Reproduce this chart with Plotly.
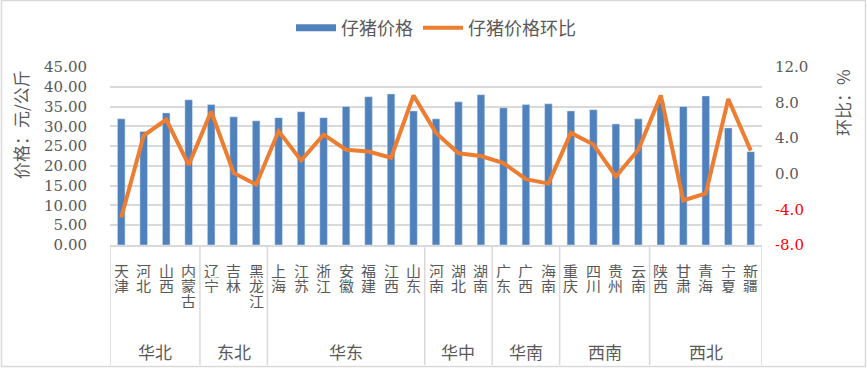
import plotly.graph_objects as go

provinces = ["天津","河北","山西","内蒙古","辽宁","吉林","黑龙江","上海","江苏","浙江","安徽","福建","江西","山东",
             "河南","湖北","湖南","广东","广西","海南","重庆","四川","贵州","云南","陕西","甘肃","青海","宁夏","新疆"]
regions = ["华北"]*4 + ["东北"]*3 + ["华东"]*7 + ["华中"]*3 + ["华南"]*3 + ["西南"]*4 + ["西北"]*5
price = [31.9, 28.7, 33.4, 36.7, 35.5, 32.4, 31.4, 32.2, 33.7, 32.2, 35.0, 37.5, 38.2, 33.9,
         31.9, 36.2, 38.0, 34.7, 35.5, 35.7, 33.9, 34.2, 30.6, 31.9, 36.0, 35.0, 37.7, 29.6, 23.6]
mom = [-4.9, 4.3, 6.1, 1.0, 7.0, 0.1, -1.2, 4.8, 1.5, 4.4, 2.7, 2.5, 1.8, 8.8,
       4.6, 2.3, 2.0, 1.2, -0.6, -1.1, 4.6, 3.3, -0.3, 2.7, 8.8, -3.0, -2.2, 8.4, 2.6]
left_ticks = [0, 5, 10, 15, 20, 25, 30, 35, 40, 45]
right_ticks = [-8, -4, 0, 4, 8, 12]

BLUE = "#4F81BD"
ORANGE = "#ED7D31"
GRAY = "#595959"
GRID = "#D9D9D9"
CJK = "Noto Sans CJK SC"
NUM = "DejaVu Serif, Noto Sans CJK SC"

x = list(range(len(provinces)))

fig = go.Figure()
fig.add_trace(go.Bar(x=x, y=price, marker_color=BLUE, name="仔猪价格", showlegend=False, yaxis="y"))
fig.add_trace(go.Scatter(x=[None], y=[None], mode="lines", line=dict(color=BLUE, width=7),
                         name="仔猪价格", yaxis="y"))
fig.add_trace(go.Scatter(x=x, y=mom, mode="lines", line=dict(color=ORANGE, width=4),
                         name="仔猪价格环比", yaxis="y2"))

def rt(v):
    s = f"{v:.1f}"
    return f"<span style='color:#FF0000'>{s}</span>" if v < 0 else s

fig.update_layout(
    width=867, height=368,
    margin=dict(l=110, r=105, t=67, b=123, autoexpand=False),
    paper_bgcolor="white", plot_bgcolor="white",
    bargap=0.66,
    showlegend=True,
    legend=dict(orientation="h", x=0.5, xanchor="center", y=(245-28)/178, yanchor="middle",
                font=dict(family=CJK, size=18, color=GRAY), itemwidth=40, tracegroupgap=0),
    xaxis=dict(range=[-0.5, len(provinces)-0.5], showticklabels=False, showgrid=False,
               showline=True, linecolor=GRID, linewidth=1.5, zeroline=False, fixedrange=True),
    yaxis=dict(range=[0, 45], tickvals=left_ticks, ticktext=[f"{v:.2f}" for v in left_ticks],
               showgrid=True, gridcolor=GRID, gridwidth=1.5, zeroline=False,
               tickfont=dict(family=NUM, size=15, color=GRAY), ticklabelstandoff=22),
    yaxis2=dict(range=[-8, 12], overlaying="y", side="right", tickvals=right_ticks,
                ticktext=[rt(v) for v in right_ticks], showgrid=False, zeroline=False,
                tickfont=dict(family=NUM, size=15, color=GRAY), ticklabelstandoff=12),
)

ann = []
# province labels, one character per row
for i, p in enumerate(provinces):
    for k, ch in enumerate(p):
        ann.append(dict(x=i, y=0, xref="x", yref="paper", text=ch, showarrow=False,
                        yanchor="middle", yshift=-(25 + 15*k), height=15, textangle=0,
                        font=dict(family=CJK, size=15, color=GRAY)))
# region labels and dividers
shapes = []
start = 0
bounds = []
for i in range(1, len(regions)+1):
    if i == len(regions) or regions[i] != regions[start]:
        ann.append(dict(x=(start + i - 1)/2, y=0, xref="x", yref="paper", text=regions[start],
                        showarrow=False, yanchor="middle", yshift=-106,
                        font=dict(family=CJK, size=17, color=GRAY)))
        bounds.append(start - 0.5)
        start = i
bounds.append(len(regions) - 0.5)
for b in bounds:
    shapes.append(dict(type="line", xref="x", yref="paper", x0=b, x1=b, y0=0, y1=-0.674,
                       line=dict(color=GRID, width=1.5)))
# axis titles
ann.append(dict(xref="paper", yref="paper", x=(20-110)/652, y=(245-125)/178, text="价格：元/公斤",
                textangle=-90, showarrow=False, xanchor="center", yanchor="middle",
                font=dict(family=CJK, size=17, color=GRAY)))
ann.append(dict(xref="paper", yref="paper", x=(842-110)/652, y=(245-103)/178, text="环比：%",
                textangle=-90, showarrow=False, xanchor="center", yanchor="middle",
                font=dict(family=CJK, size=17, color=GRAY)))
# chart border
shapes.append(dict(type="rect", xref="paper", yref="paper",
                   x0=(1.5-110)/652, x1=(865.5-110)/652, y0=(245-366.5)/178, y1=(245-0.5)/178,
                   line=dict(color=GRID, width=1.5), fillcolor="rgba(0,0,0,0)", layer="below"))

fig.update_layout(annotations=ann, shapes=shapes)
fig.write_html("out.html", config={"displayModeBar": False},
               post_script="document.body.style.margin='0';document.body.style.overflow='hidden';")
